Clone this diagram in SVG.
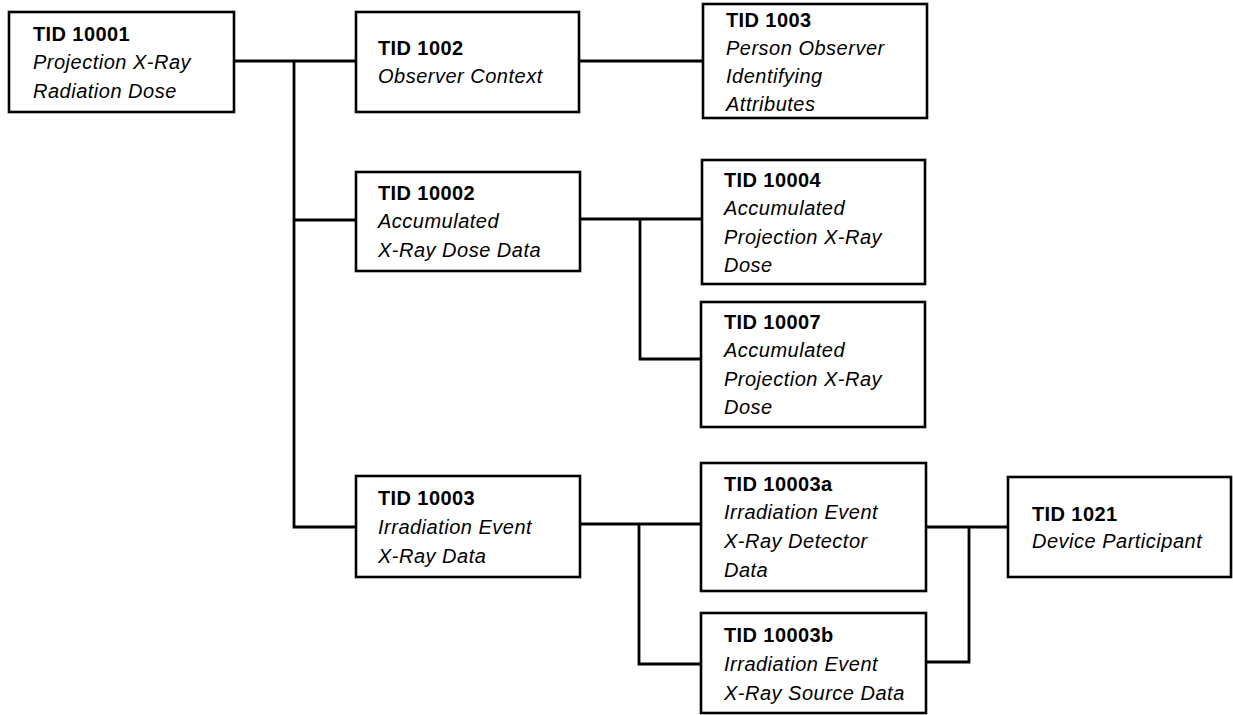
<svg xmlns="http://www.w3.org/2000/svg" width="1233" height="715" viewBox="0 0 1233 715">
<style>
.box{fill:#fff;stroke:#000;stroke-width:2.6}
.ln{fill:none;stroke:#000;stroke-width:2.8}
text{font-family:"Liberation Sans",Arial,sans-serif;font-size:20px;fill:#000}
.b{font-weight:bold;letter-spacing:0.4px}
.i{font-style:italic;letter-spacing:0.5px}
</style>
<rect width="1233" height="715" fill="#fff"/>
<g id="connectors">
<path class="ln" d="M234 61H356M294 61V527H356M294 220H356"/>
<path class="ln" d="M579 61H703"/>
<path class="ln" d="M580 219H702M640 219V359H701"/>
<path class="ln" d="M580 524H701M639 524V664H701"/>
<path class="ln" d="M926 527H1008M969 527V662H926"/>
</g>
<g id="tid10001">
<rect class="box" x="9" y="12" width="225" height="100"/>
<text x="33" y="41" class="b">TID 10001</text>
<text x="33" y="69" class="i">Projection X-Ray</text>
<text x="33" y="98" class="i">Radiation Dose</text>
</g>
<g id="tid1002">
<rect class="box" x="356" y="12" width="223" height="100"/>
<text x="378" y="55" class="b">TID 1002</text>
<text x="378" y="83" class="i">Observer Context</text>
</g>
<g id="tid1003">
<rect class="box" x="703" y="4" width="224" height="114"/>
<text x="726" y="27" class="b">TID 1003</text>
<text x="726" y="55" class="i">Person Observer</text>
<text x="726" y="83" class="i">Identifying</text>
<text x="726" y="111" class="i">Attributes</text>
</g>
<g id="tid10002">
<rect class="box" x="356" y="172" width="224" height="99"/>
<text x="378" y="200" class="b">TID 10002</text>
<text x="378" y="228" class="i">Accumulated</text>
<text x="378" y="257" class="i">X-Ray Dose Data</text>
</g>
<g id="tid10004">
<rect class="box" x="702" y="160" width="223" height="124"/>
<text x="724" y="187" class="b">TID 10004</text>
<text x="724" y="215" class="i">Accumulated</text>
<text x="724" y="244" class="i">Projection X-Ray</text>
<text x="724" y="272" class="i">Dose</text>
</g>
<g id="tid10007">
<rect class="box" x="701" y="302" width="224" height="125"/>
<text x="724" y="329" class="b">TID 10007</text>
<text x="724" y="357" class="i">Accumulated</text>
<text x="724" y="386" class="i">Projection X-Ray</text>
<text x="724" y="414" class="i">Dose</text>
</g>
<g id="tid10003">
<rect class="box" x="356" y="476" width="224" height="101"/>
<text x="378" y="505" class="b">TID 10003</text>
<text x="378" y="534" class="i">Irradiation Event</text>
<text x="378" y="563" class="i">X-Ray Data</text>
</g>
<g id="tid10003a">
<rect class="box" x="701" y="463" width="225" height="128"/>
<text x="724" y="491" class="b">TID 10003a</text>
<text x="724" y="519" class="i">Irradiation Event</text>
<text x="724" y="548" class="i">X-Ray Detector</text>
<text x="724" y="577" class="i">Data</text>
</g>
<g id="tid10003b">
<rect class="box" x="701" y="613" width="225" height="100"/>
<text x="724" y="642" class="b">TID 10003b</text>
<text x="724" y="671" class="i">Irradiation Event</text>
<text x="724" y="700" class="i">X-Ray Source Data</text>
</g>
<g id="tid1021">
<rect class="box" x="1008" y="477" width="223" height="100"/>
<text x="1032" y="521" class="b">TID 1021</text>
<text x="1032" y="548" class="i">Device Participant</text>
</g>
</svg>
